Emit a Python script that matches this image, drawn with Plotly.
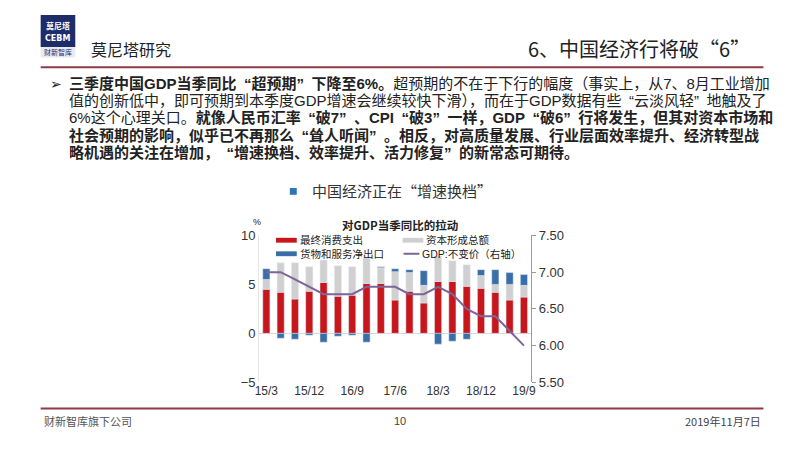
import plotly.graph_objects as go

# quarterly data, 2015Q1 - 2019Q3 (contribution to GDP y/y, ppt)
quarters = ["15/3", "15/6", "15/9", "15/12", "16/3", "16/6", "16/9", "16/12",
            "17/3", "17/6", "17/9", "17/12", "18/3", "18/6", "18/9", "18/12",
            "19/3", "19/6", "19/9"]
consumption = [4.5, 4.2, 3.5, 4.3, 5.2, 3.8, 3.9, 5.1, 5.1, 3.4, 4.3, 3.1,
               5.3, 5.3, 4.8, 4.6, 4.2, 3.4, 3.7]
capital = [1.0, 3.0, 3.7, 2.5, 2.3, 3.1, 2.9, 2.6, 1.6, 2.9, 1.9, 1.8,
           2.6, 2.1, 2.2, 1.3, 0.8, 1.6, 1.2]
net_exports = [1.1, -0.5, -0.6, -0.2, -0.9, -0.3, -0.2, -0.9, 0.1, 0.3, 0.3, 1.5,
               -1.1, -0.8, -0.6, 0.6, 1.5, 1.2, 1.1]
gdp = [7.0, 7.0, 6.9, 6.8, 6.7, 6.7, 6.7, 6.8, 6.8, 6.8, 6.7, 6.7,
       6.8, 6.7, 6.5, 6.4, 6.4, 6.2, 6.0]
tick_labels = quarters[::3]

series_names = ["最终消费支出", "资本形成总额", "货物和服务净出口", "GDP:不变价（右轴）"]

W, H = 800, 450
OFF = 8  # page body margin shifts the figure by 8px, compensate
RED = "#C8161D"
GRAY = "#D0D0D0"
BLUE = "#3A6EA8"
PURPLE = "#7D6499"
MAROON = "#8E3B46"
CJK = "Noto Sans CJK SC"
NUM = "Liberation Sans, Noto Sans CJK SC"


def px(x):
    return (x - OFF) / W


def py(y):
    return 1 - (y - OFF) / H


fig = go.Figure()
fig.add_trace(go.Bar(x=quarters, y=consumption, name=series_names[0], marker_color=RED))
fig.add_trace(go.Bar(x=quarters, y=capital, name=series_names[1], marker_color=GRAY))
fig.add_trace(go.Bar(x=quarters, y=net_exports, name=series_names[2], marker_color=BLUE))
fig.add_trace(go.Scatter(x=quarters, y=gdp, name=series_names[3], yaxis="y2",
                         mode="lines", line=dict(color=PURPLE, width=2)))

fig.update_layout(
    width=W, height=H,
    margin=dict(l=0, r=0, t=0, b=0),
    paper_bgcolor="white", plot_bgcolor="white",
    barmode="relative", bargap=0.5,
    showlegend=False,
    font=dict(family=NUM, color="#333333"),
    xaxis=dict(domain=[px(258), px(533)], type="category",
               tickvals=tick_labels, ticktext=tick_labels,
               tickfont=dict(size=12, family=NUM, color="#333"),
               showgrid=False, showline=False, ticks=""),
    yaxis=dict(domain=[py(388), py(236)], range=[-5, 10], dtick=5,
               showgrid=False, zeroline=True, zerolinecolor="#D8D8D8", zerolinewidth=1,
               showline=True, linecolor="#E6E6E6",
               tickfont=dict(size=13, family=NUM, color="#333")),
    yaxis2=dict(overlaying="y", side="right", range=[5.5, 7.5], dtick=0.5,
                tickformat=".2f", showgrid=False, zeroline=False,
                showline=True, linecolor="#9A9A9A", ticks="outside", ticklen=4,
                tickcolor="#9A9A9A",
                tickfont=dict(size=13, family=NUM, color="#333")),
)

shapes = []
annotations = []


def text(x, y, s, size, anchor="left", family=CJK, color="#222222"):
    annotations.append(dict(x=px(x), y=py(y), xref="paper", yref="paper",
                            text=s, showarrow=False, xanchor=anchor, yanchor="middle",
                            font=dict(size=size, family=family, color=color)))


def rect(x0, y0, x1, y1, color):
    shapes.append(dict(type="rect", xref="paper", yref="paper",
                       x0=px(x0), x1=px(x1), y0=py(y1), y1=py(y0),
                       fillcolor=color, line=dict(width=0)))


# header: logo, titles, rule
rect(37, 8, 72, 41, "#1E2C6A")
text(54.5, 19, "<b>莫尼塔</b>", 8, anchor="center", color="white")
text(54.5, 32, "<b>CEBM</b>", 8, anchor="center", family="DejaVu Sans", color="white")
rect(37, 41, 72, 52, "#E8EAF2")
text(54.5, 46.5, "财新智库", 7, anchor="center", color="#1E2C6A")
text(86, 43, "莫尼塔研究", 16)
text(756, 43, "6、中国经济行将破“6”", 20, anchor="right")
shapes.append(dict(type="line", xref="paper", yref="paper", x0=px(37), x1=px(768),
                   y0=py(62), y1=py(62), line=dict(color=MAROON, width=2)))

# body text (Latin-first font stack keeps the line boxes tight)
body = [
    "<b>三季度中国GDP当季同比“超预期”下降至6%。</b>超预期的不在于下行的幅度（事实上，从7、8月工业增加",
    "值的创新低中，即可预期到本季度GDP增速会继续较快下滑），而在于GDP数据有些“云淡风轻”地触及了",
    "6%这个心理关口。<b>就像人民币汇率“破7”、CPI“破3”一样，GDP“破6”行将发生，但其对资本市场和</b>",
    "<b>社会预期的影响，似乎已不再那么“耸人听闻”。相反，对高质量发展、行业层面效率提升、经济转型战</b>",
    "<b>略机遇的关注在增加，“增速换档、效率提升、活力修复”的新常态可期待。</b>",
]
text(44, 79, "➢", 14, family="DejaVu Sans")
for i, line in enumerate(body):
    # pad the narrow Latin quotes so they take a full CJK cell like in the slide
    line = line.replace("“", "\u2002“").replace("”", "”\u2002")
    text(64, 79 + 17.75 * i, line, 15, family=NUM)

# chart heading
rect(289, 187, 296, 194, "#2E75B6")
text(309, 190, "中国经济正在“增速换档”", 15, color="#333333")
text(400, 225, "<b>对GDP当季同比的拉动</b>", 11.5, anchor="center")
text(250, 222, "%", 9, family=NUM)

# legend
legend_items = [(275, 241, RED, series_names[0]), (403, 241, GRAY, series_names[1]),
                (275, 255, BLUE, series_names[2])]
for x0, y0, c, name in legend_items:
    rect(x0, y0 - 2.5, x0 + 21, y0 + 2.5, c)
    text(x0 + 22, y0, name, 10.5, family=NUM)
shapes.append(dict(type="line", xref="paper", yref="paper", x0=px(404), x1=px(420),
                   y0=py(255), y1=py(255), line=dict(color=PURPLE, width=2)))
text(421, 255, series_names[3], 10.5, family=NUM)

# footer
shapes.append(dict(type="line", xref="paper", yref="paper", x0=px(37), x1=px(768),
                   y0=py(415), y1=py(415), line=dict(color=MAROON, width=2)))
text(38, 428, "财新智库旗下公司", 11, color="#555")
text(400, 428, "10", 11, anchor="center", family=NUM, color="#444")
text(768, 428, "2019年11月7日", 11, anchor="right", color="#444")

fig.update_layout(shapes=shapes, annotations=annotations)
fig.write_html("out.html")
